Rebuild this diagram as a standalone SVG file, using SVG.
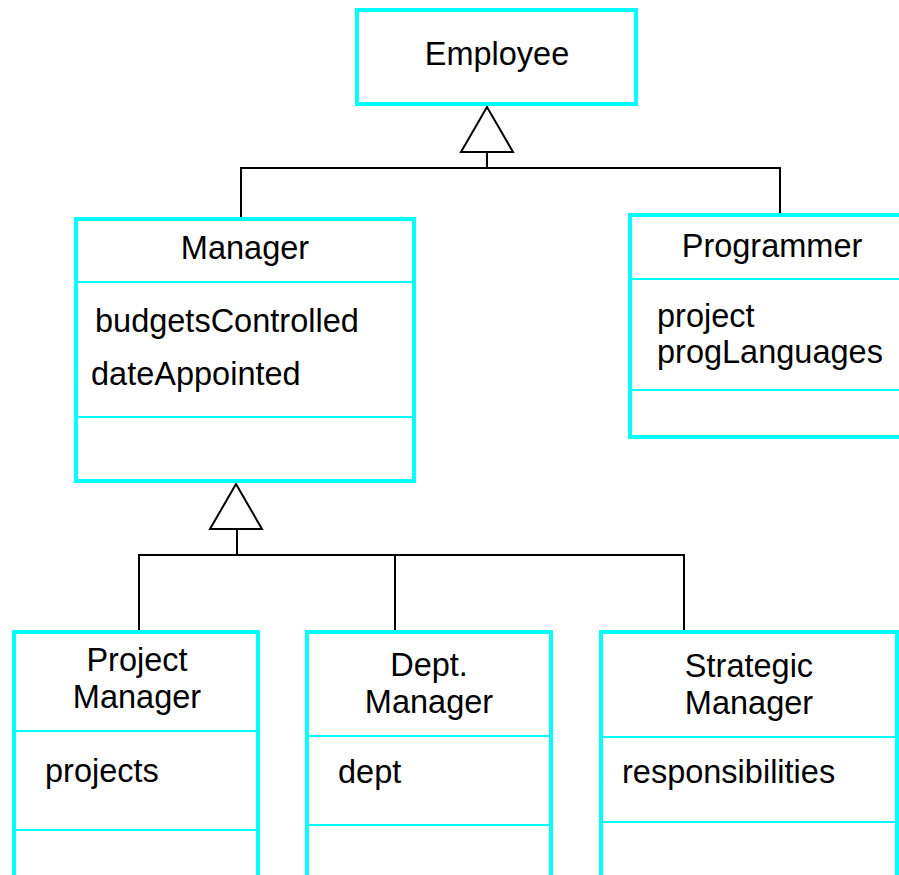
<svg xmlns="http://www.w3.org/2000/svg" width="899" height="875" viewBox="0 0 899 875">
<style>
.box{fill:#fff;stroke:#00ffff;stroke-width:4}
.div{stroke:#00ffff;stroke-width:2;fill:none}
.t{font-family:"Liberation Sans",Arial,sans-serif;font-size:32.5px;fill:#000}
.c{text-anchor:middle}
.ln{stroke:#000;stroke-width:2;fill:none}
.tri{fill:#fff;stroke:#000;stroke-width:2}
</style>
<rect width="899" height="875" fill="#fff"/>
<g id="connectors">
<polyline class="ln" points="241,219 241,168 780,168 780,215"/>
<line class="ln" x1="487" y1="152" x2="487" y2="168"/>
<polygon class="tri" points="487,107 461,152 513,152"/>
<polyline class="ln" points="139,632 139,555 684,555 684,632"/>
<line class="ln" x1="395" y1="555" x2="395" y2="632"/>
<line class="ln" x1="237" y1="529" x2="237" y2="555"/>
<polygon class="tri" points="236,484 210,529 262,529"/>
</g>
<g id="employee">
<rect class="box" x="357" y="10" width="279" height="94"/>
<text class="t c" x="497" y="65">Employee</text>
</g>
<g id="manager">
<rect class="box" x="76" y="219" width="338" height="262"/>
<line class="div" x1="76" y1="282" x2="414" y2="282"/>
<line class="div" x1="76" y1="417" x2="414" y2="417"/>
<text class="t c" x="245" y="259">Manager</text>
<text class="t" x="95" y="332">budgetsControlled</text>
<text class="t" x="91" y="385">dateAppointed</text>
</g>
<g id="programmer">
<rect class="box" x="630" y="215" width="290" height="222"/>
<line class="div" x1="630" y1="279" x2="899" y2="279"/>
<line class="div" x1="630" y1="390" x2="899" y2="390"/>
<text class="t c" x="772" y="257">Programmer</text>
<text class="t" x="657" y="327">project</text>
<text class="t" x="657" y="363">progLanguages</text>
</g>
<g id="project-manager">
<rect class="box" x="14" y="632" width="244" height="260"/>
<line class="div" x1="14" y1="731" x2="258" y2="731"/>
<line class="div" x1="14" y1="830" x2="258" y2="830"/>
<text class="t c" x="137" y="671">Project</text>
<text class="t c" x="137" y="708">Manager</text>
<text class="t" x="45" y="782">projects</text>
</g>
<g id="dept-manager">
<rect class="box" x="307" y="632" width="244" height="260"/>
<line class="div" x1="307" y1="736" x2="551" y2="736"/>
<line class="div" x1="307" y1="825" x2="551" y2="825"/>
<text class="t c" x="429" y="676">Dept.</text>
<text class="t c" x="429" y="713">Manager</text>
<text class="t" x="338" y="783">dept</text>
</g>
<g id="strategic-manager">
<rect class="box" x="601" y="632" width="296" height="260"/>
<line class="div" x1="601" y1="737" x2="897" y2="737"/>
<line class="div" x1="601" y1="822" x2="897" y2="822"/>
<text class="t c" x="749" y="677">Strategic</text>
<text class="t c" x="749" y="714">Manager</text>
<text class="t" x="622" y="783">responsibilities</text>
</g>
</svg>
